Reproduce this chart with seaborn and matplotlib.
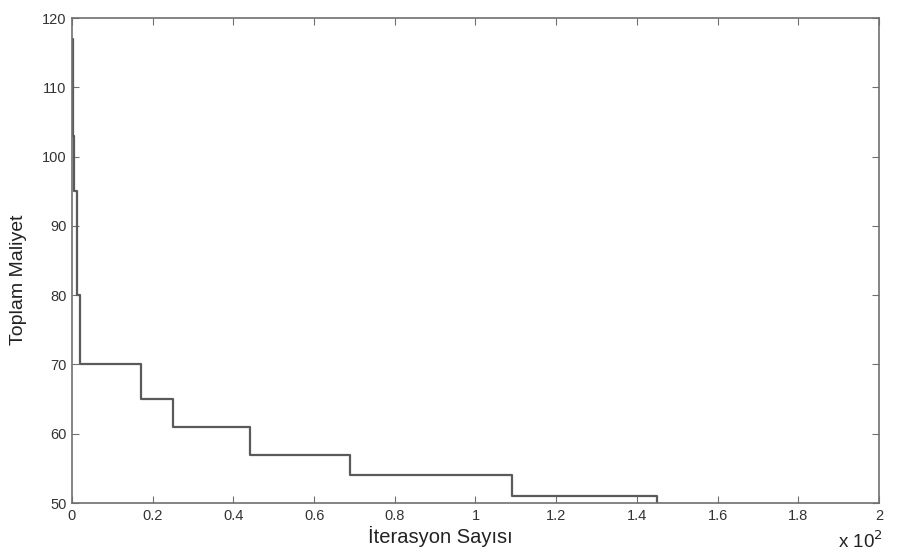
import numpy as np
import pandas as pd
import matplotlib
matplotlib.use('Agg')
import matplotlib.pyplot as plt
import seaborn as sns

# iteration at which best cost changed, and the cost from then on
iterasyon = [0, 0.3, 0.5, 1.2, 2, 17, 25, 44, 69, 109, 145]
maliyet = [117, 103, 95, 80, 70, 65, 61, 57, 54, 51, 50]

xticks = [0, 0.2, 0.4, 0.6, 0.8, 1, 1.2, 1.4, 1.6, 1.8, 2]
xticklabels = ['0', '0.2', '0.4', '0.6', '0.8', '1', '1.2', '1.4', '1.6', '1.8', '2']
yticks = [50, 60, 70, 80, 90, 100, 110, 120]

df = pd.DataFrame({'iter': np.array(iterasyon) / 100.0, 'cost': maliyet})

sns.set_style('ticks')
plt.rcParams['font.family'] = ['Liberation Sans', 'DejaVu Sans']

fig = plt.figure(figsize=(9.03, 5.56), dpi=100)
ax = fig.add_axes([0.0797, 0.0953, 0.8937, 0.8723])

sns.lineplot(data=df, x='iter', y='cost', ax=ax, estimator=None, sort=False,
             drawstyle='steps-post', color='#5a5a5a', linewidth=1.6)

ax.set_xlim(0, 2)
ax.set_ylim(50, 120)
ax.set_xticks(xticks)
ax.set_xticklabels(xticklabels)
ax.set_yticks(yticks)
ax.tick_params(direction='in', length=5, width=0.8, top=True, right=True,
               labelsize=10.5, colors='#707070', labelcolor='#333333', pad=4)
for s in ax.spines.values():
    s.set_color('#707070')
    s.set_linewidth(1.2)

ax.set_xlabel('İterasyon Sayısı', fontsize=14.5, color='#222222')
ax.xaxis.set_label_coords(0.457, -0.048)
ax.set_ylabel('Toplam Maliyet', fontsize=14, color='#222222')
ax.yaxis.set_label_coords(-0.056, 0.46)

fig.text(838 / 903, 1 - 548 / 556, r'x 10$^2$', fontsize=13.5, color='#222222')

fig.savefig('out.png', dpi=100)
